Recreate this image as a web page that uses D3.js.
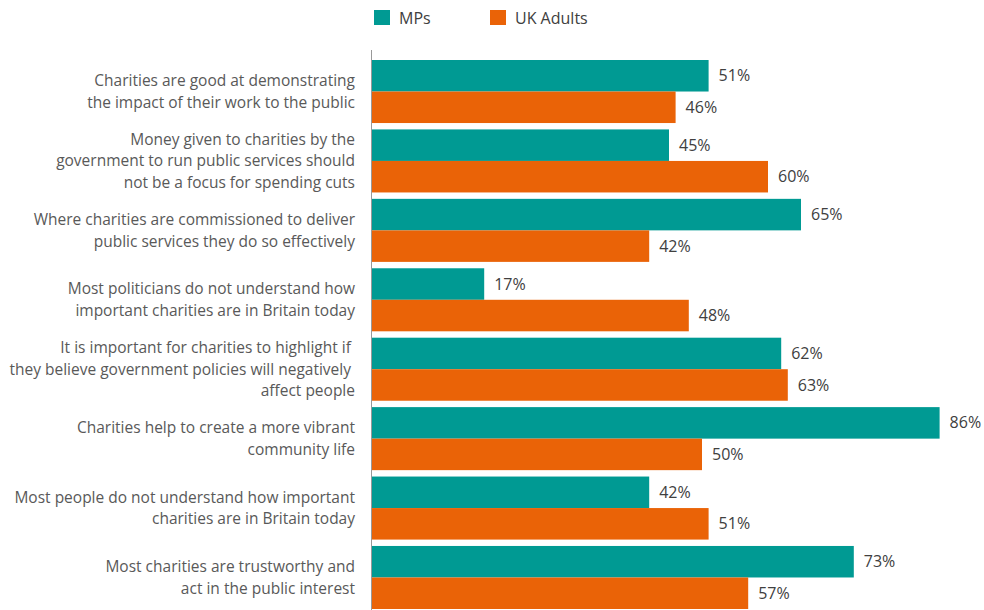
<!DOCTYPE html>
<meta charset="utf-8">
<style>
    body { margin: 0; background: #fff; }
    svg text { font-family: "Open Sans", "Noto Sans", sans-serif; }
    .cat { fill: #595959; font-size: 15.5px; }
    .val { fill: #404040; font-size: 16px; }
    .legend text { fill: #404040; font-size: 16px; }
</style>
<body>
    <script src="https://d3js.org/d3.v7.min.js"></script>
    <svg width="984" height="610"></svg>
    <script>
        // statements (line breaks as in the original)
        var statements = [
            ["Charities are good at demonstrating", "the impact of their work to the public"],
            ["Money given to charities by the", "government to run public services should", "not be a focus for spending cuts"],
            ["Where charities are commissioned to deliver", "public services they do so effectively"],
            ["Most politicians do not understand how", "important charities are in Britain today"],
            ["It is important for charities to highlight if ", "they believe government policies will negatively ", "affect people"],
            ["Charities help to create a more vibrant", "community life"],
            ["Most people do not understand how important", "charities are in Britain today"],
            ["Most charities are trustworthy and", "act in the public interest"]
        ];
        var seriesNames = ["MPs", "UK Adults"];
        var mps = [51, 45, 65, 17, 62, 86, 42, 73];
        var ukAdults = [46, 60, 42, 48, 63, 50, 51, 57];
        var colors = ["#009a93", "#ea6307"];

        var svg = d3.select("svg");

        var x = d3.scaleLinear().domain([0, 100]).range([372, 1032]);
        var y = d3.scaleBand()
            .domain(d3.range(statements.length))
            .range([60, 609])
            .paddingInner(0.092)
            .paddingOuter(0);
        var sub = d3.scaleBand().domain([0, 1]).range([0, y.bandwidth()]);

        var data = statements.map(function(s, i) {
            return { i: i, lines: s, vals: [mps[i], ukAdults[i]] };
        });

        var groups = svg.selectAll(".grp")
            .data(data)
            .enter().append("g")
            .attr("class", "grp")
            .attr("transform", function(d) { return "translate(0," + y(d.i) + ")"; });

        groups.selectAll("rect")
            .data(function(d) { return d.vals; })
            .enter().append("rect")
            .attr("x", x(0))
            .attr("y", function(v, j) { return sub(j); })
            .attr("width", function(v) { return x(v) - x(0); })
            .attr("height", sub.bandwidth())
            .attr("fill", function(v, j) { return colors[j]; });

        groups.selectAll(".val")
            .data(function(d) { return d.vals; })
            .enter().append("text")
            .attr("class", "val")
            .attr("x", function(v) { return x(v) + 10; })
            .attr("y", function(v, j) { return sub(j) + sub.bandwidth() / 2; })
            .attr("dy", "0.35em")
            .text(function(v) { return v + "%"; });

        // category labels, centred on the group
        var lineH = 21.5;
        groups.append("text")
            .attr("class", "cat")
            .attr("text-anchor", "end")
            .attr("xml:space", "preserve")
            .each(function(d) {
                var t = d3.select(this);
                var n = d.lines.length;
                var top = y.bandwidth() / 2 - (n - 1) * lineH / 2;
                d.lines.forEach(function(line, k) {
                    t.append("tspan")
                        .attr("x", 355)
                        .attr("y", top + k * lineH)
                        .attr("dy", "0.35em")
                        .text(line);
                });
            });

        // axis line
        svg.append("line")
            .attr("x1", x(0) - 0.5).attr("x2", x(0) - 0.5)
            .attr("y1", 50).attr("y2", 610)
            .attr("stroke", "#999")
            .attr("stroke-width", 1);

        // legend
        var legend = svg.append("g").attr("class", "legend");
        var legX = [374, 490];
        seriesNames.forEach(function(name, j) {
            legend.append("rect")
                .attr("x", legX[j]).attr("y", 10)
                .attr("width", 16).attr("height", 15)
                .attr("fill", colors[j]);
            legend.append("text")
                .attr("x", legX[j] + 25).attr("y", 18.5)
                .attr("dy", "0.35em")
                .text(name);
        });
    </script>
</body>
